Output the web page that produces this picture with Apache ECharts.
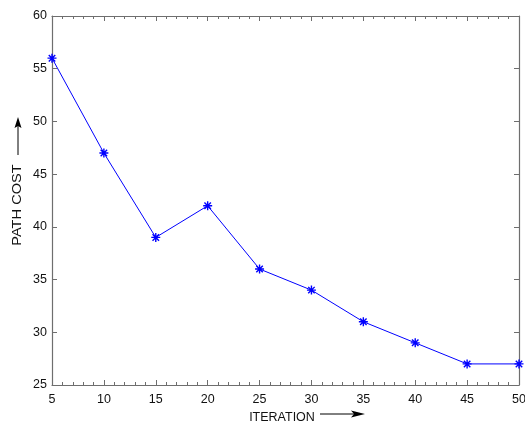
<!DOCTYPE html>
<html>
<head>
<meta charset="utf-8">
<script src="https://cdn.jsdelivr.net/npm/echarts@6/dist/echarts.min.js"></script>
<style>
  html, body { margin: 0; padding: 0; background: #fff; }
  #chart-container { width: 525px; height: 421px; }
</style>
</head>
<body>
<div id="chart-container"></div>
<script>
// data
const iterations = [5, 10, 15, 20, 25, 30, 35, 40, 45, 50];
const pathCost = [56, 47, 39, 42, 36, 34, 31, 29, 27, 27];

var dom = document.getElementById('chart-container');
var myChart = echarts.init(dom, null, { renderer: 'canvas' });

const axisGray = '#6e6e6e';
const fontFam = '"Liberation Sans", Arial, sans-serif';

// asterisk marker like matlab '*'
const star = 'path://M0,-5L0,5M-5,0L5,0M-3.6,-3.6L3.6,3.6M-3.6,3.6L3.6,-3.6';

var seriesData = iterations.map((x, i) => [x, pathCost[i]]);

function boxAxis(extra) {
   return Object.assign({
      type: 'value',
      axisLine: { show: true, lineStyle: { color: axisGray, width: 1.2 } },
      axisTick: { show: true, inside: true, length: 5, lineStyle: { color: axisGray } },
      splitLine: { show: false },
   }, extra);
}

var option =
{
   animation: false,
   grid: { left: 52, right: 6, top: 16, bottom: 36, containLabel: false, outerBoundsMode: 'none' },
   xAxis:
   [
      boxAxis({
         min: 5, max: 50, interval: 5, position: 'bottom',
         minorTick: { show: true, splitNumber: 5, length: 3, lineStyle: { color: axisGray } },
         axisLabel: { color: '#111', fontSize: 12.5, fontFamily: fontFam, margin: 8 },
         name: 'ITERATION', nameLocation: 'middle', nameGap: 20,
         nameTextStyle: { color: '#111', fontSize: 12.5, fontFamily: fontFam, padding: [0, 7, 0, 0] }
      }),
      boxAxis({
         min: 5, max: 50, interval: 5, position: 'top',
         minorTick: { show: true, splitNumber: 5, length: 3, lineStyle: { color: axisGray } },
         axisLabel: { show: false }
      })
   ],
   yAxis:
   [
      boxAxis({
         min: 25, max: 60, interval: 5, position: 'left',
         axisLabel: { color: '#111', fontSize: 12.5, fontFamily: fontFam, margin: 5 }
      }),
      boxAxis({
         min: 25, max: 60, interval: 5, position: 'right',
         axisLabel: { show: false }
      })
   ],
   series:
   [
      {
         type: 'line',
         data: seriesData,
         symbol: star,
         symbolSize: 9,
         showSymbol: true,
         lineStyle: { color: '#0000ff', width: 1 },
         itemStyle: { color: 'none', borderColor: '#0000ff', borderWidth: 1.4 },
         clip: false
      }
   ],
   graphic:
   [
      {
         type: 'text', x: 18, y: 205, rotation: Math.PI / 2, scaleX: 1.17,
         style: { text: 'PATH COST', fill: '#111', fontSize: 12.5, fontFamily: fontFam, align: 'center', verticalAlign: 'middle' }
      },
      { type: 'line', shape: { x1: 18, y1: 155, x2: 18, y2: 124 }, style: { stroke: '#000', lineWidth: 1 } },
      { type: 'polygon', shape: { points: [[18, 117], [14.5, 128], [18, 126], [21.5, 128]] }, style: { fill: '#000' } },
      { type: 'line', shape: { x1: 320, y1: 414, x2: 358, y2: 414 }, style: { stroke: '#000', lineWidth: 1 } },
      { type: 'polygon', shape: { points: [[365, 414], [351, 410.5], [354, 414], [351, 417.5]] }, style: { fill: '#000' } }
   ]
};

myChart.setOption(option);
</script>
</body>
</html>
